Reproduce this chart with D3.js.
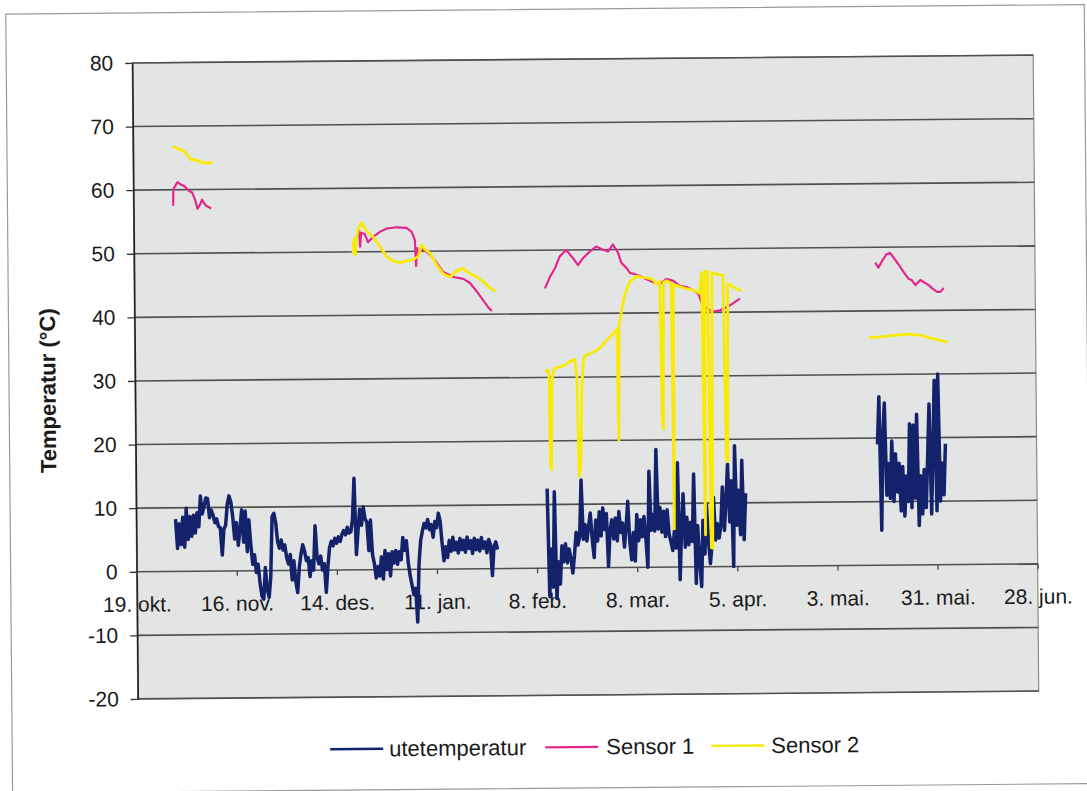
<!DOCTYPE html>
<html>
<head>
<meta charset="utf-8">
<script src="https://cdn.jsdelivr.net/npm/d3@7/dist/d3.min.js"></script>
<style>
  body { margin: 0; background: #ffffff; }
  svg { display: block; font-family: "Liberation Sans", Arial, sans-serif; }
</style>
</head>
<body>
<svg id="chart" width="1087" height="791"></svg>
<script>
// ---- axis setup ----
const originUTC = Date.UTC(2006, 9, 19);           // 19. okt.
const xTickDays = [0, 28, 56, 84, 112, 140, 168, 196, 224, 252];
const xTickLabels = ["19. okt.", "16. nov.", "14. des.", "11. jan.", "8. feb.",
                     "8. mar.", "5. apr.", "3. mai.", "31. mai.", "28. jun."];
const yTicks = [-20, -10, 0, 10, 20, 30, 40, 50, 60, 70, 80];
const seriesNames = ["utetemperatur", "Sensor 1", "Sensor 2"];
const seriesColors = ["#14216b", "#e3278b", "#f9ea05"];

// ---- utetemperatur: half-day readings, per measuring period ----
const uteOctStart = 11;
const uteOct = [
  8.2,3.6,7.5,4.2,8.5,3.8,9.9,5.0,8.6,5.5,8.8,6.0,9.2,7.0,11.8,9.0,10.2,11.5,11.4,8.4,
  9.6,8.8,7.6,8.2,7.0,6.8,2.5,6.6,7.2,10.5,11.8,10.8,8.5,5.0,7.6,4.0,6.5,9.6,4.5,9.4,
  3.0,8.0,4.0,1.0,2.5,-0.3,1.0,-2.0,-4.0,-4.5,0.5,-3.0,-4.2,-1.0,8.5,9.0,7.5,4.5,3.5,4.8,
  3.2,4.0,2.0,1.0,2.5,-1.5,1.5,-1.8,-3.5,0.5,2.5,4.0,3.0,1.5,2.0,-1.0,1.5,0.0,7.0,2.0,
  1.0,2.2,0.0,1.0,-3.5,0.5,3.5,4.5,3.8,5.0,4.2,5.2,4.5,5.6,6.2,5.5,6.7,5.8,6.0,8.0,
  14.4,2.4,6.0,9.5,7.0,9.9,8.0,7.5,3.0,7.8,2.4,1.0,-1.3,0.5,-1.0,2.0,-1.5,3.0,0.0,2.5,
  -1.0,2.8,1.0,3.0,0.8,2.8,1.5,5.0,3.0,4.5,1.0,-1.0,-2.5,-4.0,-3.0,-8.3,1.0,4.5,6.0,7.2,
  6.5,7.8,6.2,7.0,5.0,7.5,6.5,8.8,7.5,4.0,1.3,3.5,1.8,4.5,2.8,5.0,3.0,4.2,2.5,4.8,
  3.0,4.5,2.6,5.0,3.2,4.4,2.4,4.8,3.0,4.5,2.8,4.9,3.2,4.2,2.5,4.6,3.8,-1.1,3.5,4.2,3.0
];
const uteFebStart = 115;
const uteFeb = [
  12.5,-4.5,3.0,-3.0,12.0,-4.8,1.0,-2.5,3.5,1.0,3.8,0.8,3.0,1.5,-0.8,2.0,5.6,3.6,5.0,13.8,
  4.5,6.8,4.2,6.5,8.6,4.5,1.6,7.5,4.2,8.8,5.0,9.4,6.0,8.5,0.2,5.8,7.5,4.5,7.8,4.2,
  8.8,5.5,7.0,3.2,6.5,10.4,4.0,1.2,5.5,1.0,8.3,4.2,7.5,4.8,8.0,4.5,0.0,15.1,5.8,8.3,
  5.7,18.5,6.0,9.4,5.5,8.8,4.8,9.0,5.2,4.0,2.6,5.7,3.0,16.4,-2.0,6.0,11.5,3.1,7.8,3.5,
  7.0,4.0,14.6,-2.6,6.5,1.0,-3.1,7.3,2.0,9.9,4.2,0.5,3.5,10.9,4.2,6.8,4.5,6.5,12.5,5.7,
  10.5,16.1,7.0,13.5,0.0,19.0,6.5,12.0,5.0,16.7,4.2,11.5
];
const uteMayStart = 207.5;
const uteMay = [
  19.0,26.5,5.5,20.0,25.5,11.0,16.0,10.5,19.5,10.0,17.5,11.5,16.0,8.5,15.5,7.7,14.0,10.0,22.2,9.0,
  22.0,10.5,23.7,6.2,14.0,8.0,15.0,9.0,17.0,25.3,8.0,18.0,29.0,8.5,30.0,10.0,16.0,11.0,19.0
];

// ---- Sensor 1: [day, value] ----
const s1Oct = [[11.1,57.5],[11.2,60.1],[11.6,60.5],[12.4,61.2],[13.3,60.8],[14.2,60.6],[15.6,59.8],
  [16.5,59.5],[17.2,58.5],[17.9,57.0],[18.6,57.6],[19.2,58.4],[19.8,57.8],[20.4,57.4],[21.2,57.2],[21.7,57.0]];
const s1Dec = [[62.7,52.5],[63.0,53.5],[63.3,50.8],[63.6,53.0],[64.6,52.8],[65.5,51.5],[66.9,52.3],
  [68.8,53.1],[70.7,53.6],[73.5,53.8],[76.3,53.7],[77.7,53.1],[78.6,51.8],[78.9,47.7],[79.2,50.5],
  [79.5,49.7],[80.9,50.3],[82.8,49.5],[84.6,48.2],[86.5,46.7],[89.3,45.9],[92.1,45.6],[94.0,44.9],
  [95.8,43.6],[97.7,42.1],[99.1,41.0],[100.0,40.5]];
const s1Feb = [[114.9,44.0],[116.3,45.8],[117.7,47.1],[119.1,49.0],[120.9,50.0],[122.8,48.7],
  [124.2,47.6],[125.6,48.7],[127.5,49.7],[129.3,50.5],[131.2,50.0],[132.6,49.7],[134.0,50.8],
  [135.4,49.5],[136.3,47.9],[137.7,47.1],[138.7,46.3],[140.1,46.1],[141.5,45.8],[143.3,45.3],
  [145.2,44.8],[147.0,44.5],[148.9,45.3],[150.8,45.0],[152.6,44.2],[154.5,44.0],[156.4,43.5],
  [157.8,42.9],[158.7,41.4],[160.1,40.6],[162.0,40.1],[163.8,40.3],[165.7,40.8],[167.5,41.4],[169.4,42.1]];
const s1May = [[207.3,47.6],[208.2,46.8],[209.2,47.8],[210.5,48.9],[211.5,49.1],[212.4,48.4],
  [213.8,47.3],[215.2,46.1],[216.6,45.0],[217.5,44.8],[218.5,44.0],[219.9,44.8],[221.3,44.3],
  [222.2,44.0],[223.1,43.5],[224.5,42.9],[225.5,42.9],[226.4,43.5]];

// ---- Sensor 2: [day, value] ----
const s2Oct = [[11.1,66.8],[12.9,66.4],[14.8,65.8],[16.2,64.7],[17.5,64.7],[19.4,64.2],[22.2,64.2]];
const s2Dec = [[61.3,49.7],[61.6,52.0],[61.9,49.5],[62.3,52.3],[63.0,53.8],[63.7,54.6],[65.1,53.3],
  [67.0,52.3],[68.8,50.8],[70.7,49.2],[72.5,48.5],[74.4,48.2],[76.3,48.5],[78.1,48.7],[79.5,49.2],
  [80.5,51.0],[81.4,50.3],[82.8,49.7],[84.6,47.9],[86.5,46.4],[88.4,45.9],[90.3,46.9],[92.1,47.2],
  [94.0,46.4],[95.8,45.9],[97.7,45.1],[99.6,44.1],[101.0,43.6]];
const s2Feb = [[114.9,30.8],[115.5,31.2],[115.8,30.5],[116.0,16.5],[116.3,15.5],[116.6,29.5],
  [117.2,31.3],[118.5,31.6],[120.0,31.8],[121.5,32.4],[123.0,32.8],[123.6,30.0],[124.0,14.4],
  [124.5,16.0],[125.0,29.0],[125.6,33.2],[127.0,33.6],[128.5,34.0],[130.3,34.6],[131.2,35.3],
  [132.5,36.0],[134.0,36.9],[134.9,37.5],[135.2,20.0],[135.5,38.0],[136.3,40.5],[137.0,42.5],
  [137.7,43.7],[138.7,45.0],[139.6,45.3],[140.5,45.8],[142.0,45.6],[143.5,45.5],[145.2,45.2],
  [146.0,44.5],[147.0,45.0],[147.4,23.0],[147.7,21.7],[148.0,44.8],[149.0,45.0],[150.2,44.6],
  [150.5,6.0],[150.8,44.4],[152.0,44.2],[154.0,43.8],[156.0,43.6],[158.2,43.0],[158.7,46.3],
  [159.2,5.0],[159.6,46.4],[160.4,46.5],[160.8,3.0],[161.2,2.9],[161.6,46.2],[163.0,46.0],
  [164.7,45.8],[165.2,17.0],[165.6,16.5],[166.0,44.5],[167.5,44.0],[169.9,43.3]];
const s2May = [[205.4,35.8],[208.7,35.9],[211.5,36.1],[216.1,36.3],[219.9,36.1],[223.6,35.5],[227.3,35.0]];

// ---- build series ----
const dayToDate = d => new Date(originUTC + d * 864e5);
const fromSteps = (start, vals) => vals.map((v, i) => [start + i * 0.5, v]);
const series = [
  { name: seriesNames[0], color: seriesColors[0], width: 3.5,
    segments: [fromSteps(uteOctStart, uteOct), fromSteps(uteFebStart, uteFeb), fromSteps(uteMayStart, uteMay)] },
  { name: seriesNames[1], color: seriesColors[1], width: 2.2,
    segments: [s1Oct, s1Dec, s1Feb, s1May] },
  { name: seriesNames[2], color: seriesColors[2], width: 2.8,
    segments: [s2Oct, s2Dec, s2Feb, s2May] }
];

// ---- layout ----
const plot = { left: 135, right: 1036, top: 59, bottom: 695 };
const svg = d3.select("#chart");
const root = svg.append("g").attr("transform", "rotate(-0.5 586 380)");

// outer chart frame
root.append("rect")
  .attr("x", 9).attr("y", 9).attr("width", 1078.5).attr("height", 779)
  .attr("fill", "#ffffff").attr("stroke", "#9a9a9a").attr("stroke-width", 1.2);

const x = d3.scaleUtc()
  .domain([dayToDate(0), dayToDate(252)])
  .range([plot.left, plot.right]);
const y = d3.scaleLinear().domain([-20, 80]).range([plot.bottom, plot.top]);

// plot area
root.append("rect")
  .attr("x", plot.left).attr("y", plot.top)
  .attr("width", plot.right - plot.left).attr("height", plot.bottom - plot.top)
  .attr("fill", "#e3e5e5").attr("stroke", "#8a8a8a").attr("stroke-width", 1.2);

// horizontal gridlines
root.append("g").selectAll("line").data(yTicks).join("line")
  .attr("x1", plot.left).attr("x2", plot.right)
  .attr("y1", d => y(d)).attr("y2", d => y(d))
  .attr("stroke", "#505050").attr("stroke-width", 1.6);

// y axis
const yAxis = root.append("g")
  .attr("transform", `translate(${plot.left},0)`)
  .call(d3.axisLeft(y).tickValues(yTicks).tickFormat(d => String(d))
    .tickSize(7).tickPadding(12).tickSizeOuter(0));
yAxis.select(".domain").attr("stroke", "#222").attr("stroke-width", 1.6);
yAxis.selectAll(".tick line").attr("stroke", "#333").attr("stroke-width", 1.3);
yAxis.selectAll(".tick text")
  .attr("font-size", 21).attr("fill", "#1a1a1a")
  .attr("font-family", "Liberation Sans, Arial, sans-serif");

// x axis at 0
const xAxis = root.append("g")
  .attr("transform", `translate(0,${y(0)})`)
  .call(d3.axisBottom(x)
    .tickValues(xTickDays.map(dayToDate))
    .tickFormat((d, i) => xTickLabels[i])
    .tickSize(5).tickPadding(20).tickSizeOuter(0));
xAxis.select(".domain").remove();
xAxis.selectAll(".tick line").attr("stroke", "#444").attr("stroke-width", 1.3);
xAxis.selectAll(".tick text")
  .attr("font-size", 21).attr("fill", "#1a1a1a")
  .attr("font-family", "Liberation Sans, Arial, sans-serif");

// y axis title
root.append("text")
  .attr("transform", "translate(48,386) rotate(-90)")
  .attr("text-anchor", "middle").attr("dominant-baseline", "central")
  .attr("font-size", 22).attr("font-weight", "bold").attr("fill", "#1a1a1a")
  .text("Temperatur (\u00B0C)");

// series lines
const line = d3.line().x(d => x(dayToDate(d[0]))).y(d => y(d[1]));
series.forEach(s => {
  root.append("g").selectAll("path").data(s.segments).join("path")
    .attr("d", line)
    .attr("fill", "none")
    .attr("stroke", s.color)
    .attr("stroke-width", s.width)
    .attr("stroke-linejoin", "round");
});

// legend
const legendItems = [
  { lx: 327, tx: 386 },
  { lx: 542, tx: 603 },
  { lx: 708, tx: 768 }
];
const legend = root.append("g");
series.forEach((s, i) => {
  const it = legendItems[i];
  legend.append("line")
    .attr("x1", it.lx).attr("x2", it.lx + 53)
    .attr("y1", 747).attr("y2", 747)
    .attr("stroke", s.color).attr("stroke-width", 2.4);
  legend.append("text")
    .attr("x", it.tx).attr("y", 747)
    .attr("dominant-baseline", "central")
    .attr("font-size", 22).attr("fill", "#1a1a1a")
    .text(s.name);
});
</script>
</body>
</html>
